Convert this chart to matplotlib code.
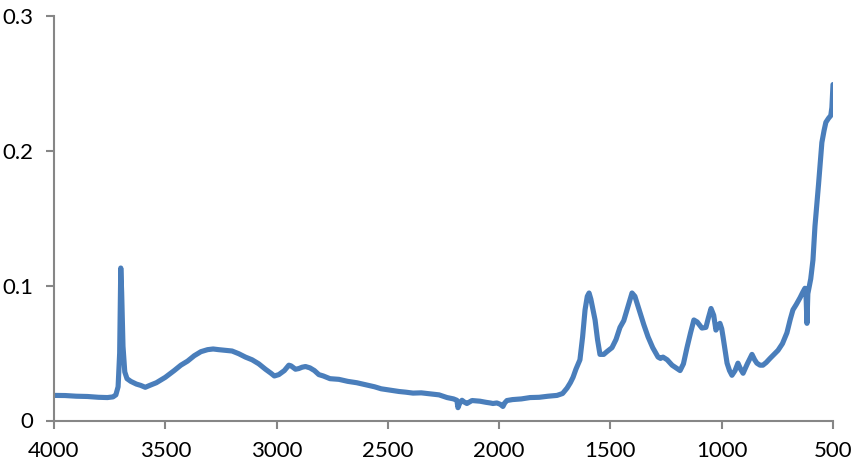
import matplotlib
matplotlib.use("Agg")
import matplotlib.pyplot as plt

# wavenumber (cm-1) and absorbance
wavenumber = [4000, 3950, 3900, 3850, 3800, 3760, 3735, 3722, 3712, 3705, 3700, 3696,
              3690, 3682, 3672, 3655, 3630, 3610, 3590, 3570, 3540, 3500, 3460, 3430,
              3400, 3370, 3340, 3310, 3285, 3260, 3230, 3200, 3170, 3140, 3110, 3080,
              3050, 3025, 3010, 2990, 2965, 2945, 2935, 2915, 2900, 2885, 2870, 2850,
              2830, 2810, 2790, 2760, 2720, 2680, 2640, 2600, 2560, 2530, 2490, 2450,
              2420, 2387, 2350, 2311, 2270, 2234, 2205, 2190, 2185, 2178, 2167, 2155,
              2145, 2130, 2122, 2100, 2086, 2060, 2040, 2028, 2010, 1995, 1983, 1975,
              1965, 1940, 1900, 1861, 1820, 1780, 1740, 1715, 1695, 1680, 1668, 1655,
              1637, 1625, 1614, 1604, 1596, 1588, 1578, 1569, 1558, 1547, 1530, 1516,
              1493, 1475, 1457, 1440, 1420, 1403, 1390, 1367, 1350, 1331, 1310, 1286,
              1275, 1264, 1245, 1223, 1205, 1187, 1172, 1156, 1140, 1125, 1110, 1089,
              1071, 1060, 1048, 1036, 1026, 1016, 1008, 1000, 994, 985, 976, 965,
              954, 940, 927, 915, 904, 885, 864, 852, 842, 828, 815, 800,
              783, 765, 747, 727, 707, 692, 680, 665, 648, 636, 626, 621,
              617, 613, 600, 590, 581, 565, 550, 540, 532, 520, 510, 505,
              500]
absorbance = [0.0186, 0.0185, 0.018, 0.0178, 0.0172, 0.017, 0.0175, 0.019, 0.025, 0.05,
              0.113, 0.095, 0.055, 0.036, 0.031, 0.029, 0.027, 0.026, 0.0246, 0.026,
              0.028, 0.032, 0.037, 0.041, 0.044, 0.048, 0.051, 0.0525, 0.053, 0.0525,
              0.052, 0.0515, 0.0495, 0.047, 0.045, 0.042, 0.038, 0.035, 0.033, 0.034,
              0.037, 0.041, 0.0405, 0.038, 0.0385, 0.0395, 0.04, 0.039, 0.037, 0.034,
              0.033, 0.031, 0.0305, 0.029, 0.028, 0.0265, 0.025, 0.0235, 0.0225, 0.0215,
              0.021, 0.0203, 0.0205, 0.0198, 0.019, 0.017, 0.016, 0.015, 0.0095, 0.0125,
              0.015, 0.0135, 0.0126, 0.014, 0.0148, 0.0145, 0.0143, 0.0135, 0.013, 0.0126,
              0.013, 0.012, 0.0104, 0.013, 0.0148, 0.0155, 0.016, 0.017, 0.0172, 0.018,
              0.0186, 0.02, 0.024, 0.028, 0.032, 0.038, 0.045, 0.062, 0.082, 0.092,
              0.0945, 0.09, 0.082, 0.0745, 0.06, 0.049, 0.049, 0.051, 0.054, 0.06,
              0.069, 0.074, 0.085, 0.0945, 0.092, 0.08, 0.071, 0.062, 0.054, 0.047,
              0.046, 0.047, 0.045, 0.041, 0.039, 0.037, 0.042, 0.054, 0.065, 0.0745,
              0.073, 0.0685, 0.069, 0.076, 0.083, 0.078, 0.067, 0.07, 0.072, 0.068,
              0.062, 0.052, 0.0425, 0.037, 0.0335, 0.037, 0.0425, 0.038, 0.035, 0.042,
              0.049, 0.045, 0.0425, 0.041, 0.041, 0.043, 0.046, 0.049, 0.052, 0.057,
              0.065, 0.075, 0.082, 0.086, 0.091, 0.095, 0.098, 0.092, 0.072, 0.094,
              0.105, 0.119, 0.144, 0.175, 0.206, 0.215, 0.221, 0.224, 0.226, 0.232,
              0.249]

x_ticks = [4000, 3500, 3000, 2500, 2000, 1500, 1000, 500]
y_ticks = [0, 0.1, 0.2, 0.3]
y_labels = ["0", "0.1", "0.2", "0.3"]

plt.rcParams['font.family'] = ['Lato', 'DejaVu Sans']

fig = plt.figure(figsize=(8.54, 4.67), dpi=100)
ax = fig.add_axes([54 / 854, (467 - 420.5) / 467, (833 - 54) / 854, (420.5 - 15.7) / 467])

ax.plot(wavenumber, absorbance, color='#4a7ebb', lw=3.7, solid_joinstyle='round',
        solid_capstyle='round')

ax.set_xlim(4000, 500)
ax.set_ylim(0, 0.3)
ax.set_xticks(x_ticks)
ax.set_xticklabels([str(t) for t in x_ticks])
ax.set_yticks(y_ticks)
ax.set_yticklabels(y_labels)

for side in ['top', 'right']:
    ax.spines[side].set_visible(False)
for side in ['left', 'bottom']:
    ax.spines[side].set_color('#868686')
    ax.spines[side].set_linewidth(1.5)

ax.tick_params(axis='both', direction='out', length=6, width=1.5, color='#868686',
               labelsize=16, labelcolor='black')
ax.tick_params(axis='x', pad=9)
ax.tick_params(axis='y', pad=9)

fig.savefig('out.png', dpi=100)
